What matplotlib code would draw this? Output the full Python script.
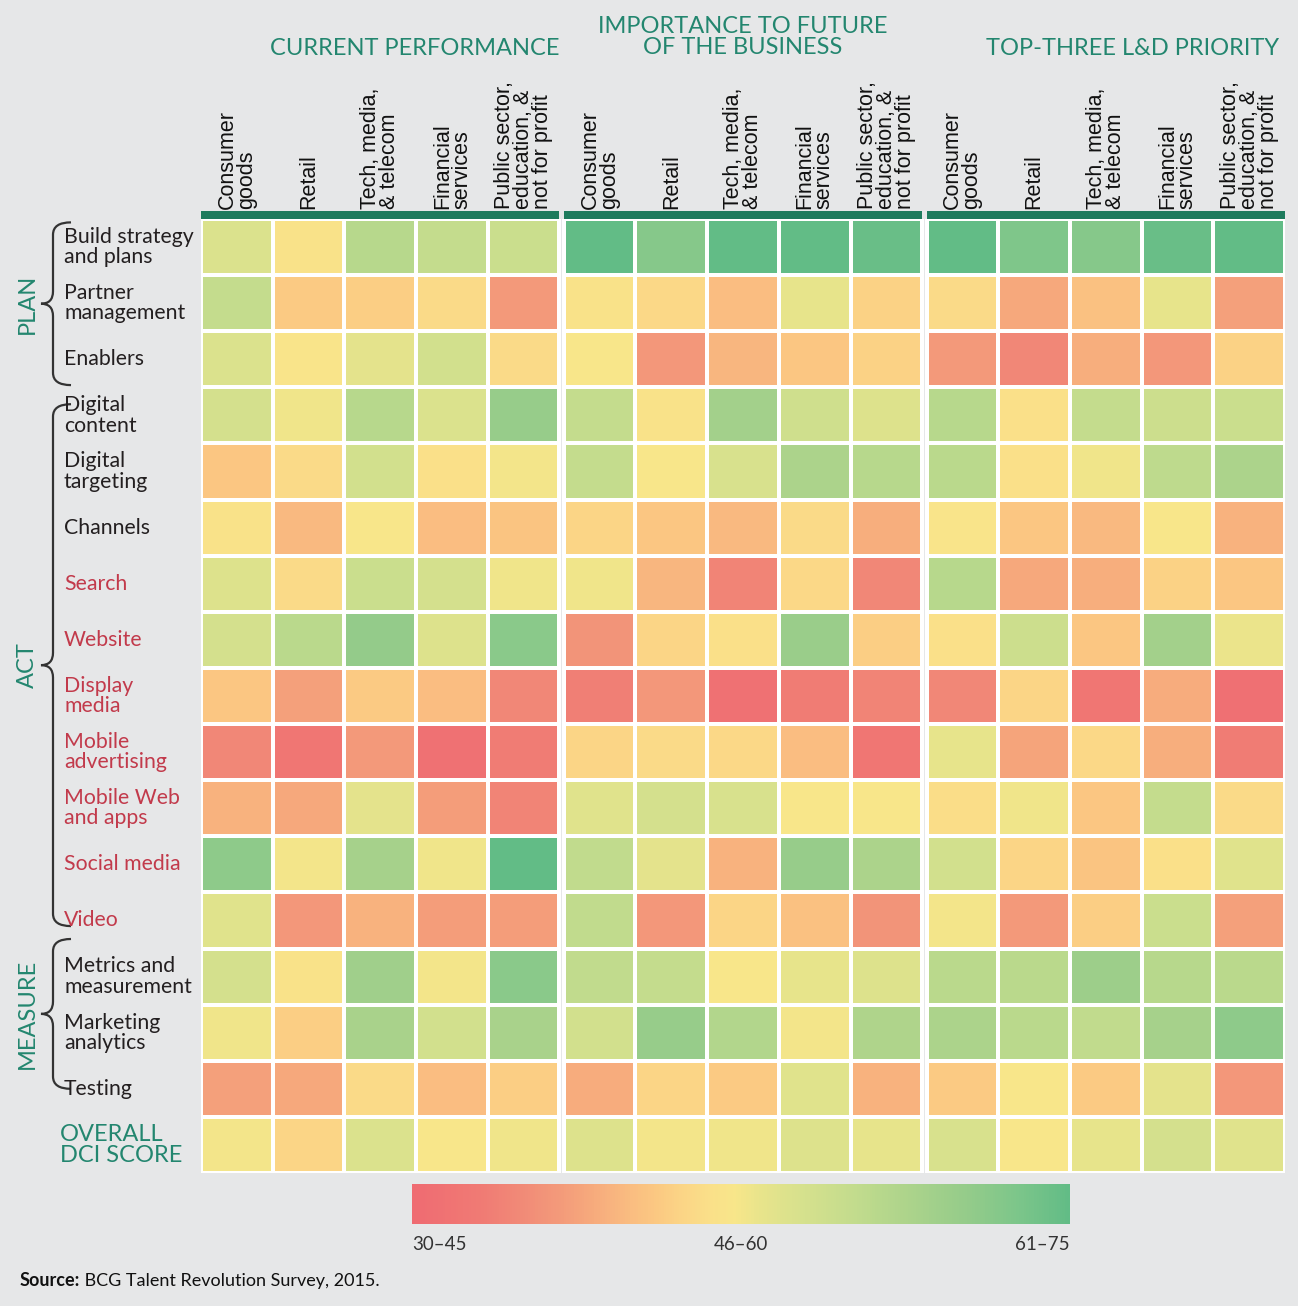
import matplotlib
matplotlib.use("Agg")
import matplotlib.pyplot as plt
import matplotlib.cm as cm
import numpy as np
from matplotlib.colors import LinearSegmentedColormap, Normalize
from matplotlib.path import Path
from matplotlib.patches import PathPatch, Rectangle
from matplotlib.transforms import blended_transform_factory

# --- data -----------------------------------------------------------------
groups = ["CURRENT PERFORMANCE", "IMPORTANCE TO FUTURE\nOF THE BUSINESS", "TOP-THREE L&D PRIORITY"]
industries = ["Consumer\ngoods", "Retail", "Tech, media,\n& telecom", "Financial\nservices",
              "Public sector,\neducation, &\nnot for profit"]
rows = ["Build strategy\nand plans", "Partner\nmanagement", "Enablers",
        "Digital\ncontent", "Digital\ntargeting", "Channels", "Search", "Website",
        "Display\nmedia", "Mobile\nadvertising", "Mobile Web\nand apps", "Social media", "Video",
        "Metrics and\nmeasurement", "Marketing\nanalytics", "Testing", "OVERALL\nDCI SCORE"]
red_rows = ["Search", "Website", "Display\nmedia", "Mobile\nadvertising",
            "Mobile Web\nand apps", "Social media", "Video"]
sections = [("PLAN", 0, 3), ("ACT", 3, 13), ("MEASURE", 13, 16)]

current = [
    [56, 51, 62, 60, 59],
    [60, 47, 47.5, 49.5, 40],
    [56, 51.5, 54.5, 57.5, 49.5],
    [57, 53, 62, 56, 67.5],
    [46.5, 49.5, 57.5, 50.5, 52.5],
    [51, 44.5, 52, 45, 46],
    [55.5, 49.5, 59, 57, 53],
    [57, 61.5, 68, 55.5, 69.5],
    [46.5, 41, 47, 45, 37],
    [37, 33.5, 40, 32, 35],
    [43.5, 42, 54.5, 40.5, 36.5],
    [69, 52.5, 65, 53, 75],
    [55, 39.5, 43.5, 40.5, 40.5],
    [57, 51, 66, 52.5, 69.5],
    [53, 47.5, 64.5, 57.5, 64.5],
    [41, 42, 49.5, 45, 47.5],
    [52.5, 48.5, 56, 52, 53],
]
importance = [
    [75, 70, 75, 75, 74],
    [51, 49, 45, 54, 48],
    [52, 39.5, 44, 46.5, 48],
    [60, 51, 65.5, 58, 55.5],
    [60, 52, 56.5, 64, 62],
    [48.5, 46.5, 44.5, 49.5, 43],
    [53, 44, 36.5, 49, 37],
    [39, 48.5, 50.5, 67, 47.5],
    [35.5, 39.5, 32, 35, 36.5],
    [48.5, 49.5, 49, 45, 33.5],
    [55, 57, 56.5, 52, 52],
    [60.5, 54.5, 43.5, 67.5, 64],
    [60.5, 39.5, 48.5, 45.5, 39],
    [60.5, 60, 52, 54, 55.5],
    [57.5, 67.5, 63, 52.5, 63.5],
    [42.5, 48.5, 47, 55, 43.5],
    [55.5, 52.5, 53, 55.5, 54],
]
priority = [
    [75, 71, 70, 74, 75],
    [49.5, 42, 45.5, 54, 41],
    [40, 37, 43, 39.5, 48],
    [62, 50.5, 60, 58.5, 59],
    [61.5, 50.5, 53, 61, 64],
    [51.5, 46.5, 44.5, 52, 43.5],
    [62, 42, 43, 48, 46.5],
    [50.5, 58.5, 46.5, 65.5, 53.5],
    [37, 48.5, 33.5, 42.5, 31.5],
    [54, 41.5, 49, 43, 35],
    [50, 53, 46.5, 60, 49.5],
    [57.5, 48.5, 46, 50.5, 55],
    [52.5, 40, 47.5, 59, 41],
    [61.5, 61.5, 66.5, 62, 61.5],
    [64, 61.5, 60.5, 65, 69],
    [47, 52, 47, 54.5, 39.5],
    [56.5, 52, 54, 57, 55],
]
scale_labels = ["30\u201345", "46\u201360", "61\u201375"]

# --- style ----------------------------------------------------------------
BG = "#E6E7E8"
TEAL = "#23866F"
DARK = "#231F20"
RED_TXT = "#C23A4B"
BAR = "#1E7B5D"
LABEL_FONT = ["Lato", "DejaVu Sans"]
COL_FONT = ["Liberation Sans", "DejaVu Sans"]

cmap = LinearSegmentedColormap.from_list("dci", [
    (0.00, "#EF6B72"), (0.10, "#F07A74"), (0.16, "#F18977"), (0.22, "#F3997A"),
    (0.27, "#F6A97C"), (0.32, "#F9B980"), (0.37, "#FBC882"), (0.41, "#FBD586"),
    (0.45, "#FADF89"), (0.49, "#F8E68A"), (0.53, "#E8E48B"), (0.59, "#D7E18D"),
    (0.67, "#C3DC8D"), (0.76, "#ABD38B"), (0.85, "#93CB8A"), (0.92, "#7DC68A"),
    (1.00, "#62BC86")])
norm = Normalize(30, 75)

W, H = 1298, 1306
fig = plt.figure(figsize=(W / 100, H / 100), dpi=100, facecolor=BG)

ax = fig.add_axes([201 / W, 1 - 1173 / H, (1285 - 201) / W, (1173 - 219) / H])
gap = 0.06
nrow = len(rows)
ax.set_xlim(0, 15 + 2 * gap)
ax.set_ylim(nrow, 0)
ax.set_facecolor("white")
ax.axis("off")

for g, data in enumerate([current, importance, priority]):
    x0 = g * (5 + gap)
    ax.pcolormesh(x0 + np.arange(6), np.arange(nrow + 1), np.array(data),
                  cmap=cmap, norm=norm, edgecolors="white", linewidth=2.6)
    ax.add_patch(Rectangle((x0, -0.14), 5, 0.14, color=BAR, clip_on=False, lw=0))
    for j, lab in enumerate(industries):
        ax.text(x0 + j + 0.5, -0.17, lab, rotation=90, ha="center", va="bottom",
                multialignment="left", fontsize=15.5, family=COL_FONT,
                linespacing=0.88, color="#111111")

# group titles
ax.text(5.0, -3.03, groups[0], ha="right", va="center", fontsize=17,
        family=LABEL_FONT, color=TEAL)
ax.text(5 + gap + 2.5, -3.24, groups[1], ha="center", va="center", fontsize=17,
        family=LABEL_FONT, color=TEAL, linespacing=1.0)
ax.text(15 + 2 * gap - 0.08, -3.03, groups[2], ha="right", va="center", fontsize=17,
        family=LABEL_FONT, color=TEAL)

# row labels
tr = blended_transform_factory(fig.transFigure, ax.transData)
for i, lab in enumerate(rows):
    if i == nrow - 1:
        ax.text(60 / W, i + 0.5, lab, transform=tr, ha="left", va="center",
                fontsize=17, family=LABEL_FONT, color=TEAL, linespacing=1.0)
    else:
        col = RED_TXT if lab in red_rows else DARK
        ax.text(64 / W, i + 0.5, lab, transform=tr, ha="left", va="center",
                fontsize=15.3, family=LABEL_FONT, color=col, linespacing=1.02)

# section labels and braces
brace_spans = [(0.06, 2.96), (3.3, 12.6), (12.83, 15.5)]
xl, dx_tip, dx_end, dy = 53 / W, 12 / W, 18 / W, 0.22
for (name, s, e), (top, bot) in zip(sections, brace_spans):
    mid = (top + bot) / 2
    ax.text(27 / W, mid, name, transform=tr, rotation=90, ha="center", va="center",
            fontsize=17, family=LABEL_FONT, color=TEAL)
    verts = [(xl + dx_end, top), (xl, top), (xl, top + dy), (xl, mid - dy),
             (xl, mid), (xl - dx_tip, mid), (xl, mid), (xl, mid + dy),
             (xl, bot - dy), (xl, bot), (xl + dx_end, bot)]
    codes = [Path.MOVETO, Path.CURVE3, Path.CURVE3, Path.LINETO, Path.CURVE3, Path.CURVE3,
             Path.CURVE3, Path.CURVE3, Path.LINETO, Path.CURVE3, Path.CURVE3]
    ax.add_patch(PathPatch(Path(verts, codes), transform=tr, fill=False,
                           edgecolor="#333333", lw=1.6, clip_on=False))

# colour scale
cax = fig.add_axes([412 / W, 1 - 1224 / H, (1070 - 412) / W, 40 / H])
cb = fig.colorbar(cm.ScalarMappable(norm=norm, cmap=cmap), cax=cax, orientation="horizontal")
cb.outline.set_visible(False)
cb.set_ticks([])
for lab, xf, ha in zip(scale_labels, [0, 0.5, 1], ["left", "center", "right"]):
    cax.text(xf, -0.5, lab, transform=cax.transAxes, ha=ha, va="center",
             fontsize=13.5, family=LABEL_FONT, color="#333333")

# source
src = fig.text(20 / W, 1 - 1281 / H, "Source:", ha="left", va="center", fontsize=13,
               family=LABEL_FONT, fontweight="bold", color="#111111")
ax.annotate(" BCG Talent Revolution Survey, 2015.", xy=(1, 0.5), xycoords=src,
            ha="left", va="center", fontsize=13, family=LABEL_FONT, color="#111111")

fig.savefig("out.png", dpi=100, facecolor=BG)
